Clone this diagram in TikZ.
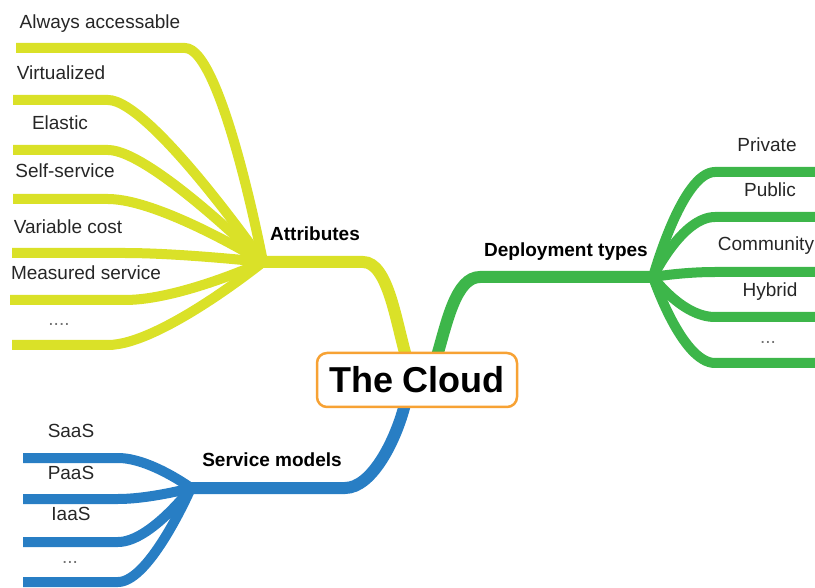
\documentclass[tikz,border=0pt]{standalone}
\usepackage{fontspec}
\setmainfont{Liberation Sans}
\usetikzlibrary{backgrounds}

\definecolor{attcol}{RGB}{218,225,40}
\definecolor{depcol}{RGB}{61,182,74}
\definecolor{sercol}{RGB}{40,126,196}
\definecolor{boxcol}{RGB}{247,162,52}

\begin{document}
\begin{tikzpicture}[x=1pt, y=-1pt,
    leaf/.style={font=\fontsize{19}{22}\selectfont, text=black!85, anchor=base, inner sep=0},
    dots/.style={leaf, text=black!55},
    topic/.style={font=\fontsize{19}{22}\selectfont\bfseries, anchor=base, inner sep=0},
    twig/.style={line width=10pt},
    limb/.style={line width=12pt}]

    \useasboundingbox (0,0) rectangle (815,588);

    \node[draw=boxcol, line width=2.5pt, rounded corners=10pt, fill=white,
          minimum width=200pt, minimum height=54pt, inner sep=0,
          font=\fontsize{36}{40}\selectfont\bfseries] (cloud) at(417,380) {The Cloud};

    \coordinate (atthub) at(263,262);
    \coordinate (dephub) at(653,277);
    \coordinate (serhub) at(191,488);

    \begin{pgfonlayer}{background}
    % attributes
    \draw[limb, attcol] (atthub) -- (363,262) .. controls (388,262) and (396,322) .. (406,356);
    \draw[twig, attcol] (16,48) -- (185,48) .. controls (222,48) and (atthub) .. (atthub);
    \draw[twig, attcol] (13,100) -- (108,100) .. controls (150,100) and (atthub) .. (atthub);
    \draw[twig, attcol] (13,150) -- (108,150) .. controls (150,150) and (atthub) .. (atthub);
    \draw[twig, attcol] (13,199) -- (108,199) .. controls (160,199) and (atthub) .. (atthub);
    \draw[twig, attcol] (12,253) -- (125,253) .. controls (180,253) and (atthub) .. (atthub);
    \draw[twig, attcol] (10,300) -- (125,300) .. controls (180,300) and (atthub) .. (atthub);
    \draw[twig, attcol] (12,345) -- (108,345) .. controls (160,345) and (atthub) .. (atthub);

    % deployment types
    \draw[limb, depcol] (437,356) .. controls (447,322) and (456,277) .. (480,277) -- (dephub);
    \draw[twig, depcol] (dephub) .. controls (dephub) and (682,172) .. (715,172) -- (815,172);
    \draw[twig, depcol] (dephub) .. controls (dephub) and (682,217) .. (715,217) -- (815,217);
    \draw[twig, depcol] (dephub) .. controls (dephub) and (682,272) .. (715,272) -- (815,272);
    \draw[twig, depcol] (dephub) .. controls (dephub) and (682,317) .. (715,317) -- (815,317);
    \draw[twig, depcol] (dephub) .. controls (dephub) and (682,363) .. (715,363) -- (815,363);

    % service models
    \draw[limb, sercol] (405,404) .. controls (396,440) and (372,488) .. (345,488) -- (serhub);
    \draw[twig, sercol] (23,458) -- (118,458) .. controls (150,458) and (serhub) .. (serhub);
    \draw[twig, sercol] (23,499) -- (118,499) .. controls (150,499) and (serhub) .. (serhub);
    \draw[twig, sercol] (23,542) -- (118,542) .. controls (150,542) and (serhub) .. (serhub);
    \draw[twig, sercol] (23,582) -- (118,582) .. controls (150,582) and (serhub) .. (serhub);
    \end{pgfonlayer}

    \node[topic] (att) at(315,241) {Attributes};
    \node[topic] (dep) at(566,257) {Deployment types};
    \node[topic] (ser) at(272,467) {Service models};

    \node[leaf] (acc) at(100,29) {Always accessable};
    \node[leaf] (virt) at(61,80) {Virtualized};
    \node[leaf] (elas) at(60,130) {Elastic};
    \node[leaf] (self) at(65,178) {Self-service};
    \node[leaf] (var) at(68,234) {Variable cost};
    \node[leaf] (meas) at(86,280) {Measured service};
    \node[dots] (attmore) at(59,326) {....};

    \node[leaf] (priv) at(767,152) {Private};
    \node[leaf] (pub) at(770,197) {Public};
    \node[leaf] (comm) at(766,251) {Community};
    \node[leaf] (hyb) at(770,297) {Hybrid};
    \node[dots] (depmore) at(768,344) {...};

    \node[leaf] (saas) at(71,438) {SaaS};
    \node[leaf] (paas) at(71,479) {PaaS};
    \node[leaf] (iaas) at(71,520) {IaaS};
    \node[dots] (sermore) at(70,563) {...};

\end{tikzpicture}
\end{document}
